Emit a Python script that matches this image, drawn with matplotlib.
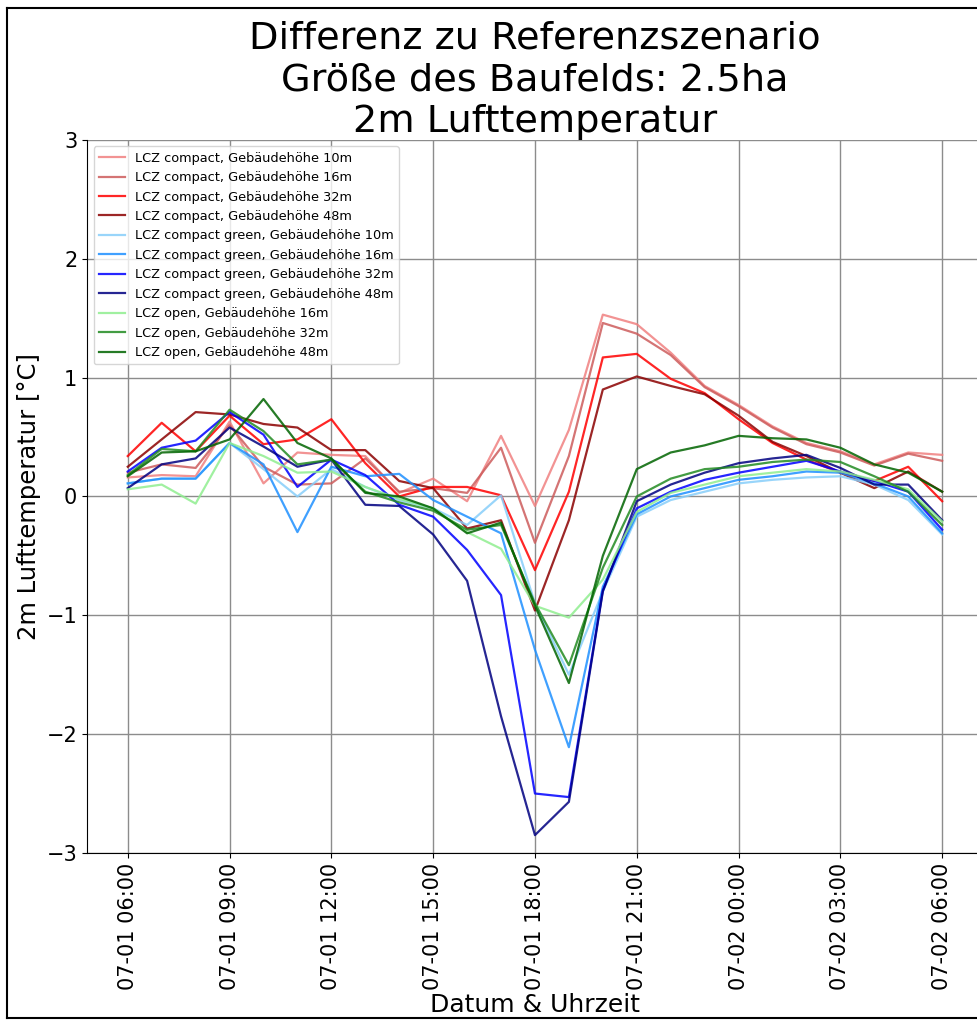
import numpy as np
import pandas as pd
import matplotlib
matplotlib.use("Agg")
import matplotlib.pyplot as plt
import matplotlib.dates as mdates
from matplotlib.lines import Line2D

# Zeitachse: stuendlich von 07-01 06:00 bis 07-02 06:00
zeit = pd.date_range("2023-07-01 06:00", periods=25, freq="h")

# Differenzen zum Referenzszenario [°C]
compact_10 = [0.16, 0.18, 0.17, 0.63, 0.11, 0.37, 0.35, 0.34, 0.03, 0.15, -0.04, 0.51, -0.08, 0.56, 1.53,
              1.45, 1.21, 0.93, 0.77, 0.59, 0.45, 0.38, 0.27, 0.37, 0.35]
compact_16 = [0.20, 0.27, 0.24, 0.60, 0.25, 0.10, 0.11, 0.32, 0.04, 0.07, 0.03, 0.41, -0.39, 0.34, 1.46,
              1.37, 1.19, 0.92, 0.76, 0.58, 0.44, 0.37, 0.26, 0.36, 0.30]
compact_32 = [0.34, 0.62, 0.38, 0.68, 0.44, 0.48, 0.65, 0.28, 0.00, 0.08, 0.08, 0.01, -0.62, 0.04, 1.17,
              1.20, 0.99, 0.87, 0.65, 0.45, 0.31, 0.20, 0.13, 0.25, -0.04]
compact_48 = [0.25, 0.48, 0.71, 0.69, 0.61, 0.58, 0.39, 0.39, 0.13, 0.07, -0.27, -0.20, -0.96, -0.20, 0.90,
              1.01, 0.93, 0.86, 0.68, 0.46, 0.34, 0.20, 0.07, 0.21, 0.04]
green_10 = [0.11, 0.15, 0.15, 0.45, 0.23, 0.00, 0.23, 0.08, -0.03, -0.10, -0.24, 0.01, -0.90, -1.50, -0.80,
            -0.17, -0.03, 0.04, 0.11, 0.14, 0.16, 0.17, 0.10, -0.03, -0.32]
green_16 = [0.11, 0.15, 0.15, 0.45, 0.27, -0.30, 0.25, 0.17, 0.19, -0.03, -0.17, -0.31, -1.29, -2.11, -0.76,
            -0.15, 0.00, 0.07, 0.14, 0.17, 0.21, 0.20, 0.11, 0.00, -0.31]
green_32 = [0.21, 0.41, 0.47, 0.71, 0.52, 0.08, 0.31, 0.18, -0.07, -0.17, -0.45, -0.83, -2.50, -2.53, -0.79,
            -0.10, 0.04, 0.14, 0.20, 0.25, 0.30, 0.21, 0.13, 0.04, -0.28]
green_48 = [0.07, 0.27, 0.32, 0.58, 0.42, 0.25, 0.31, -0.07, -0.08, -0.32, -0.71, -1.85, -2.85, -2.57, -0.80,
            -0.04, 0.10, 0.20, 0.28, 0.32, 0.35, 0.24, 0.10, 0.10, -0.20]
open_16 = [0.06, 0.10, -0.06, 0.45, 0.34, 0.20, 0.21, 0.08, -0.02, -0.10, -0.30, -0.44, -0.92, -1.02, -0.70,
           -0.13, 0.03, 0.10, 0.17, 0.20, 0.23, 0.21, 0.14, 0.06, -0.21]
open_32 = [0.18, 0.40, 0.38, 0.73, 0.55, 0.27, 0.31, 0.04, -0.05, -0.12, -0.28, -0.24, -0.90, -1.42, -0.60,
           0.00, 0.15, 0.23, 0.25, 0.29, 0.31, 0.29, 0.17, 0.04, -0.24]
open_48 = [0.17, 0.37, 0.38, 0.48, 0.82, 0.45, 0.32, 0.03, 0.00, -0.10, -0.31, -0.22, -0.92, -1.57, -0.50,
           0.23, 0.37, 0.43, 0.51, 0.49, 0.48, 0.41, 0.27, 0.20, 0.04]

serien = [compact_10, compact_16, compact_32, compact_48,
          green_10, green_16, green_32, green_48,
          open_16, open_32, open_48]
namen = ["LCZ compact, Gebäudehöhe 10m", "LCZ compact, Gebäudehöhe 16m",
         "LCZ compact, Gebäudehöhe 32m", "LCZ compact, Gebäudehöhe 48m",
         "LCZ compact green, Gebäudehöhe 10m", "LCZ compact green, Gebäudehöhe 16m",
         "LCZ compact green, Gebäudehöhe 32m", "LCZ compact green, Gebäudehöhe 48m",
         "LCZ open, Gebäudehöhe 16m", "LCZ open, Gebäudehöhe 32m", "LCZ open, Gebäudehöhe 48m"]
farben = ["lightcoral", "indianred", "red", "darkred",
          "lightskyblue", "dodgerblue", "blue", "navy",
          "lightgreen", "forestgreen", "darkgreen"]

fig = plt.figure(figsize=(9.78, 10.21), dpi=100)
ax = fig.add_axes([0.089, 0.1646, 0.916, 0.6983])

for werte, name, farbe in zip(serien, namen, farben):
    ax.plot(zeit, werte, color=farbe, label=name, lw=1.6, alpha=0.85)

ax.set_ylim(-3, 3)
ax.set_yticks([-3, -2, -1, 0, 1, 2, 3])
ax.xaxis.set_major_locator(mdates.HourLocator(byhour=[0, 3, 6, 9, 12, 15, 18, 21]))
ax.xaxis.set_major_formatter(mdates.DateFormatter("%m-%d %H:%M"))
ax.tick_params(axis="both", labelsize=15)
plt.setp(ax.get_xticklabels(), rotation=90)
ax.grid(True, color="#8c8c8c", lw=1.0)
ax.spines["top"].set_visible(False)
ax.spines["right"].set_visible(False)

ax.set_xlabel("Datum & Uhrzeit", fontsize=18, labelpad=2)
ax.set_ylabel("2m Lufttemperatur [°C]", fontsize=17.5)
ax.set_title("Differenz zu Referenzszenario\nGröße des Baufelds: 2.5ha\n2m Lufttemperatur",
             fontsize=27.5)
ax.legend(loc="upper left", fontsize=9.3)

# Rahmen um die Abbildung
fig.add_artist(Line2D([7 / 978, 7 / 978], [1 - 1018 / 1021, 1 - 8 / 1021], color="black", lw=1.5))
fig.add_artist(Line2D([7 / 978, 1], [1 - 8 / 1021, 1 - 8 / 1021], color="black", lw=1.5))
fig.add_artist(Line2D([7 / 978, 1], [1 - 1018 / 1021, 1 - 1018 / 1021], color="black", lw=1.5))

fig.savefig("out.png", dpi=100)
